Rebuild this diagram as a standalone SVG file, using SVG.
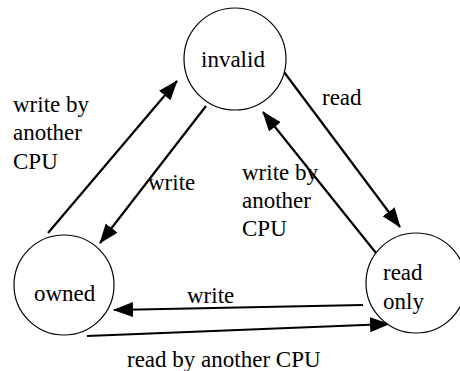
<svg xmlns="http://www.w3.org/2000/svg" width="460" height="371" viewBox="0 0 460 371">
<defs>
<marker id="ah" markerUnits="userSpaceOnUse" markerWidth="20" markerHeight="16" refX="19" refY="7.5" orient="auto">
<path d="M0,0 L20,7.5 L0,15 z" fill="#000"/>
</marker>
</defs>
<rect width="460" height="371" fill="#fff"/>
<g id="connectors" stroke="#000" stroke-width="2.2" fill="none">
<line x1="48" y1="233" x2="177" y2="81" marker-end="url(#ah)"/>
<line x1="206" y1="106" x2="100" y2="243" marker-end="url(#ah)"/>
<line x1="284" y1="72" x2="400" y2="227" marker-end="url(#ah)"/>
<line x1="376" y1="253" x2="263" y2="112" marker-end="url(#ah)"/>
<line x1="363" y1="305" x2="114" y2="310" marker-end="url(#ah)"/>
<line x1="87" y1="336" x2="389" y2="324" marker-end="url(#ah)"/>
</g>
<g id="labels" fill="#000">
<text font-family="Liberation Serif" font-size="23" x="13" y="112">write by</text>
<text font-family="Liberation Serif" font-size="23" x="13" y="140">another</text>
<text font-family="Liberation Serif" font-size="23" x="13" y="169">CPU</text>
<text font-family="Liberation Serif" font-size="23" x="148" y="190">write</text>
<text font-family="Liberation Serif" font-size="23" x="322" y="105">read</text>
<text font-family="Liberation Serif" font-size="23" x="242" y="180">write by</text>
<text font-family="Liberation Serif" font-size="23" x="242" y="208">another</text>
<text font-family="Liberation Serif" font-size="23" x="242" y="236">CPU</text>
<text font-family="Liberation Serif" font-size="23" x="187" y="303">write</text>
<text font-family="Liberation Serif" font-size="23" x="127" y="367">read by another CPU</text>
</g>
<g id="invalid">
<circle cx="235" cy="59" r="51" fill="#fff" stroke="#000" stroke-width="1.2"/>
<text font-family="Liberation Serif" font-size="23" x="201" y="67">invalid</text>
</g>
<g id="owned">
<circle cx="64" cy="285" r="50" fill="#fff" stroke="#000" stroke-width="1.2"/>
<text font-family="Liberation Serif" font-size="23" x="34" y="301">owned</text>
</g>
<g id="readonly">
<circle cx="416" cy="283" r="50" fill="#fff" stroke="#000" stroke-width="1.2"/>
<text font-family="Liberation Serif" font-size="23" x="383" y="280">read</text>
<text font-family="Liberation Serif" font-size="23" x="383" y="309">only</text>
</g>
</svg>
